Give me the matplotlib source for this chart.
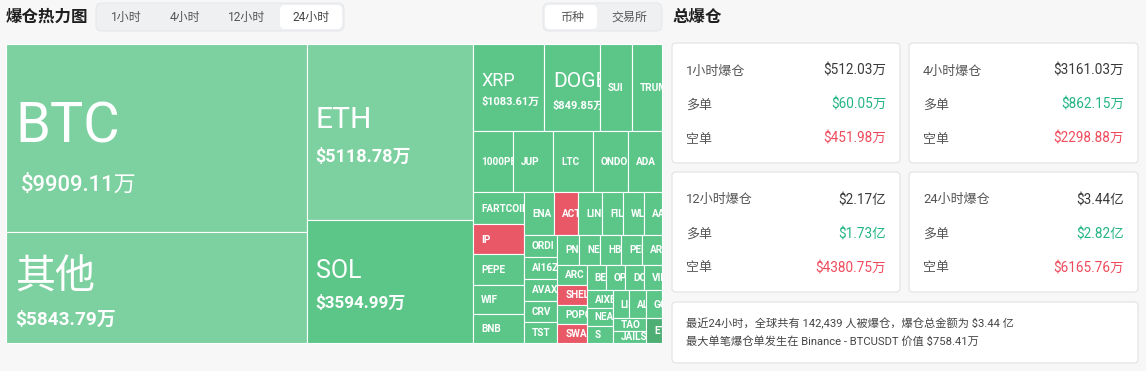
import math
import matplotlib
matplotlib.use("Agg")
import matplotlib.pyplot as plt
from matplotlib.patches import Rectangle, FancyBboxPatch

# ---------------- data ----------------
coins = ['BTC', '其他', 'ETH', 'SOL', 'XRP', 'DOGE', 'SUI', 'TRUMP',
         '1000PEPE', 'JUP', 'LTC', 'ONDO', 'ADA',
         'FARTCOIN', 'IP', 'PEPE', 'WIF', 'BNB',
         'ENA', 'ACT', 'LINK', 'FIL', 'WLD', 'AAVE',
         'ORDI', 'AI16Z', 'AVAX', 'CRV', 'TST',
         'PNUT', 'NEIRO', 'HBAR', 'PENGU', 'ARB',
         'ARC', 'SHELL', 'POPCAT', 'SWARMS',
         'BERA', 'OP', 'DOT', 'VIRTUAL',
         'AIXBT', 'NEAR', 'S',
         'LISTA', 'ALT', 'GOAT', 'TAO', 'JAILSTOOL', 'ETHFI']
liq_wan = [9909.11, 5843.79, 5118.78, 3594.99, 1083.61, 849.85, 500, 455,
           430, 425, 420, 375, 365,
           285, 272, 270, 268, 255,
           221, 185, 177, 156, 155, 134,
           130, 128, 126, 124, 123,
           115, 113, 111, 109, 106,
           104, 102, 100, 97,
           87, 85, 84, 82,
           82, 80, 80,
           80, 79, 78, 76, 72, 70]
tone = ['light', 'light', 'light', 'mid', 'mid', 'mid', 'mid', 'mid',
        'mid', 'mid', 'mid', 'mid', 'mid',
        'mid', 'red', 'mid', 'mid', 'mid',
        'mid', 'red', 'mid', 'mid', 'mid', 'mid',
        'mid', 'mid', 'mid', 'mid', 'mid',
        'mid', 'mid', 'mid', 'mid', 'mid',
        'mid', 'red', 'mid', 'red',
        'mid', 'mid', 'mid', 'mid',
        'mid', 'mid', 'mid',
        'mid', 'mid', 'mid', 'mid', 'mid', 'dark']

map_title = "爆仓热力图"
tab_labels = ["1小时", "4小时", "12小时", "24小时"]
active_tab = 3
group_labels = ["币种", "交易所"]
active_group = 0
total_title = "总爆仓"
card_titles = ["1小时爆仓", "4小时爆仓", "12小时爆仓", "24小时爆仓"]
card_total_wan = [512.03, 3161.03, 21700, 34400]
card_long_wan = [60.05, 862.15, 17300, 28200]
card_short_wan = [451.98, 2298.88, 4380.75, 6165.76]
long_label = "多单"
short_label = "空单"
summary_lines = ["最近24小时，全球共有 142,439 人被爆仓，爆仓总金额为 $3.44 亿",
                 "最大单笔爆仓单发生在 Binance - BTCUSDT 价值 $758.41万"]

# ---------------- style ----------------
W, H = 1146, 371
BG = '#f7f7f7'
TONES = {'light': '#7dd1a0', 'mid': '#5cc689', 'red': '#e85867', 'dark': '#4fae74'}
GREEN = '#22b485'
RED = '#ef4a5b'
FONT = ['Roboto', 'Noto Sans CJK SC', 'DejaVu Sans']
PT = 0.72  # px -> pt at dpi 100
# name px, value px, name centre (fraction of cell height), gap name->value (px), value indent
BIG = {'BTC': (56, 22, 0.415, 61, 6), '其他': (40, 19, 0.378, 44, 0),
       'ETH': (30, 18, 0.415, 39, 0), 'SOL': (25, 17, 0.40, 33, 0),
       'XRP': (18, 11, 0.41, 21, 0), 'DOGE': (21, 11, 0.41, 25, 0)}


def fmt(v):
    if v >= 10000:
        return f"${v / 10000:.2f}亿"
    return f"${v:.2f}万"


def squarify(values, x, y, w, h):
    total = float(sum(values))
    areas = [v / total * w * h for v in values]
    order = sorted(range(len(values)), key=lambda i: -values[i])
    rect = {'x': x, 'y': y, 'w': w, 'h': h}
    out = [None] * len(values)
    ratio = 0.5 * (1 + math.sqrt(5))

    def worst(ra, fixed):
        s = sum(ra)
        if s <= 0:
            return math.inf
        f = fixed * fixed * ratio
        return max(f * max(ra) / (s * s), s * s / (f * min(ra)))

    def position(row, fixed, flush):
        horiz = fixed == rect['w']
        s = sum(areas[i] for i in row)
        other = s / fixed if fixed else 0
        avail = rect['h'] if horiz else rect['w']
        if flush or other > avail:
            other = avail
        last = rect['x'] if horiz else rect['y']
        end = last + (rect['w'] if horiz else rect['h'])
        for k, i in enumerate(row):
            step = areas[i] / other if other else 0
            remain = end - last
            mod = remain if (k == len(row) - 1 or remain < step) else step
            if horiz:
                out[i] = (last, rect['y'], mod, other)
            else:
                out[i] = (rect['x'], last, other, mod)
            last += mod
        if horiz:
            rect['y'] += other
            rect['h'] -= other
        else:
            rect['x'] += other
            rect['w'] -= other

    fixed = min(w, h)
    best = math.inf
    row = []
    i = 0
    while i < len(order):
        row.append(order[i])
        score = worst([areas[j] for j in row], fixed)
        if score <= best:
            i += 1
            best = score
        else:
            row.pop()
            position(row, fixed, False)
            fixed = min(rect['w'], rect['h'])
            row = []
            best = math.inf
    if row:
        position(row, fixed, True)
    return out


fig = plt.figure(figsize=(W / 100, H / 100), dpi=100, facecolor=BG)
ax = fig.add_axes([0, 0, 1, 1])
ax.set_xlim(0, W)
ax.set_ylim(H, 0)
ax.axis('off')
ax.set_facecolor(BG)


def rbox(x0, y0, x1, y1, fc, ec='none', r=4, lw=0.8, z=1):
    p = FancyBboxPatch((x0 + r, y0 + r), (x1 - x0) - 2 * r, (y1 - y0) - 2 * r,
                       boxstyle=f"round,pad={r}", fc=fc, ec=ec, lw=lw, zorder=z)
    ax.add_patch(p)
    return p


def txt(x, y, s, px, color='#333333', ha='left', weight='normal', va='center', **kw):
    return ax.text(x, y, s, fontsize=px * PT, color=color, ha=ha, va=va,
                   family=FONT, fontweight=weight, **kw)


# ---------------- header (left) ----------------
txt(6, 17, map_title, 16.5, color='#1f1f1f', weight='bold')
rbox(96, 3, 344, 31, fc='#eef0f2', ec='#e6e8eb', r=6)
tab_centres = [126, 185, 247, 311]
rbox(280, 5, 342, 29, fc='white', r=5, z=2)
for k, (lab, cx) in enumerate(zip(tab_labels, tab_centres)):
    txt(cx, 17, lab, 12, color='#555555' if k != active_tab else '#444444', ha='center', zorder=3)

rbox(543, 3, 662, 31, fc='#eef0f2', ec='#e6e8eb', r=6)
rbox(545, 5, 597, 29, fc='white', r=5, z=2)
for lab, cx in zip(group_labels, [572, 629]):
    txt(cx, 17, lab, 12, color='#555555', ha='center', zorder=3)

# ---------------- treemap ----------------
cells = squarify(liq_wan, 6, 44, 656, 299)
for name, val, tn, (x, y, w, h) in zip(coins, liq_wan, tone, cells):
    patch = Rectangle((x, y), w, h, fc=TONES[tn], ec='white', lw=0.8, zorder=2)
    ax.add_patch(patch)
    if name in BIG:
        npx, vpx, frac, gap, ind = BIG[name]
        cy = y + frac * h
        t1 = txt(x + 9, cy + 0.36 * npx, name, npx, color='white', va='baseline',
                 zorder=3, clip_on=True)
        t2 = txt(x + 9 + ind, cy + gap + 0.36 * vpx, fmt(val), vpx, color='white', va='baseline',
                 weight='bold' if npx < 50 else 'medium', zorder=3, clip_on=True)
        for t in (t1, t2):
            t.set_clip_path(patch)
    else:
        t = txt(x + 8, y + h / 2 + 3.6, name, 10, color='white', va='baseline', weight='bold',
                zorder=3, clip_on=True)
        t.set_clip_path(patch)

# ---------------- right panel ----------------
txt(672, 17, total_title, 16.5, color='#1f1f1f', weight='bold')
card_boxes = [(672, 43, 900, 163), (909, 43, 1138, 163), (672, 172, 900, 292), (909, 172, 1138, 292)]
for (x0, y0, x1, y1), title, tot, lng, sht in zip(card_boxes, card_titles, card_total_wan,
                                                 card_long_wan, card_short_wan):
    rbox(x0, y0, x1, y1, fc='white', ec='#e2e2e2', r=4)
    rows = [(title, fmt(tot), '#3a3a3a'), (long_label, fmt(lng), GREEN), (short_label, fmt(sht), RED)]
    for k, (lab, val, col) in enumerate(rows):
        yy = y0 + 28 + 34 * k
        txt(x0 + 14, yy, lab, 13, color='#555555', zorder=3)
        txt(x1 - 14, yy, val, 13.5, color=col, ha='right', zorder=3)

rbox(672, 302, 1138, 363, fc='white', ec='#e2e2e2', r=4)
for k, line in enumerate(summary_lines):
    txt(686, 323 + 18 * k, line, 11.2, color='#444444', zorder=3)

fig.savefig('out.png', dpi=100, facecolor=BG)
